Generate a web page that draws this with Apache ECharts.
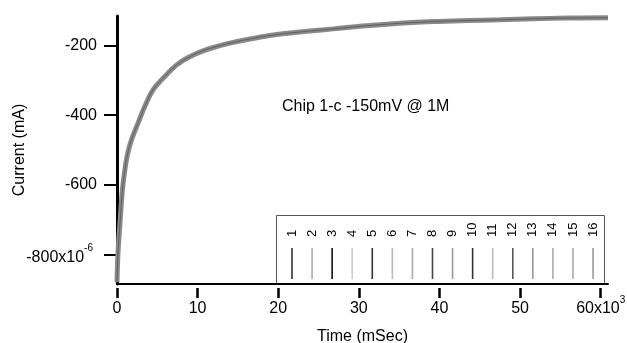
<!DOCTYPE html>
<html>
<head>
<meta charset="utf-8">
<title>Chip 1-c -150mV @ 1M</title>
<script src="https://cdn.jsdelivr.net/npm/echarts@6/dist/echarts.min.js"></script>
<style>
  html, body { margin: 0; padding: 0; background: #fff; }
  #main { width: 627px; height: 343px; }
</style>
</head>
<body>
<div id="main"></div>
<script>
// time (mSec) and current (x10^-6 mA)
var timeVals = [0, 120, 370, 670, 920, 1240, 1790, 2610, 3440, 4470, 5710, 7370, 9020, 10670,
  12340, 13990, 16470, 18950, 21430, 23910, 26810, 30950, 35080, 39180, 43360, 47500, 51600, 55770, 60900];
var currentVals = [-880, -797, -711, -615, -567, -519, -471, -423, -375, -327, -294, -256, -232, -215,
  -203, -193, -181, -171, -164, -158, -152, -143, -136, -131, -128, -126, -123, -121, -120];

var xTicks = [0, 10000, 20000, 30000, 40000, 50000, 60000];
var yTicks = [-800, -600, -400, -200];

var legendNames = ['1', '2', '3', '4', '5', '6', '7', '8', '9', '10', '11', '12', '13', '14', '15', '16'];
var legendColors = ['#333', '#aaa', '#111', '#ccc', '#333', '#bbb', '#aaa', '#444',
  '#999', '#333', '#bbb', '#555', '#999', '#aaa', '#aaa', '#999'];

var font = '"Liberation Sans", Arial, sans-serif';

var traceData = timeVals.map(function (t, i) { return [t, currentVals[i]]; });

// legend box drawn by hand (rotated numbers + short line samples)
var legendItems = [{
  type: 'rect',
  shape: { x: 276.5, y: 215.5, width: 328, height: 69 },
  style: { fill: '#fff', stroke: '#555', lineWidth: 1 }
}];
legendNames.forEach(function (name, i) {
  var x = 292 + i * 20.07;
  legendItems.push({
    type: 'text',
    x: x, y: 237,
    rotation: Math.PI / 2,
    style: { text: name, font: '13px ' + font, fill: '#000', align: 'left', verticalAlign: 'middle' }
  });
  legendItems.push({
    type: 'line',
    shape: { x1: x, y1: 248, x2: x, y2: 279 },
    style: { stroke: legendColors[i], lineWidth: 1.6 }
  });
});

var chart = echarts.init(document.getElementById('main'));
chart.setOption({
  animation: false,
  backgroundColor: '#fff',
  grid: { left: 117, right: 19, top: 16, bottom: 59, outerBoundsMode: 'none', containLabel: false },
  xAxis: [{
    type: 'value',
    min: 0,
    max: 60900,
    position: 'bottom',
    name: 'Time (mSec)',
    nameLocation: 'middle',
    nameGap: 45,
    nameMoveOverlap: false,
    nameTextStyle: { color: '#000', fontSize: 16, fontFamily: font },
    axisLine: { show: true, lineStyle: { color: '#000', width: 2 } },
    axisTick: { show: false },
    axisLabel: { show: false },
    splitLine: { show: false }
  }, {
    type: 'value',
    min: 0,
    max: 60900,
    position: 'bottom',
    offset: 4,
    axisLine: { show: false },
    axisTick: { show: true, length: 10, lineStyle: { color: '#000', width: 2.5 }, customValues: xTicks },
    axisLabel: {
      color: '#000',
      fontSize: 16,
      fontFamily: font,
      margin: 4,
      customValues: xTicks,
      formatter: function (v) {
        if (v === 60000) return '{a|60x10}{s|3}';
        return '{a|' + (v / 1000) + '}';
      },
      rich: {
        a: { fontSize: 16, fontFamily: font, color: '#000', padding: [9, 0, 0, 0], verticalAlign: 'bottom' },
        s: { fontSize: 10, fontFamily: font, color: '#000', padding: [0, 0, 12, 0], verticalAlign: 'bottom' }
      }
    },
    splitLine: { show: false }
  }],
  yAxis: {
    type: 'value',
    min: -885,
    max: -115,
    offset: 2,
    name: 'Current (mA)',
    nameLocation: 'middle',
    nameGap: 87,
    nameMoveOverlap: false,
    nameTextStyle: { color: '#000', fontSize: 16, fontFamily: font },
    axisLine: { show: true, lineStyle: { color: '#000', width: 3 } },
    axisTick: { show: true, length: 13, lineStyle: { color: '#000', width: 2 }, customValues: yTicks },
    axisLabel: {
      color: '#000',
      fontSize: 16,
      fontFamily: font,
      margin: 18,
      customValues: yTicks,
      formatter: function (v) {
        if (v === -800) return '{a|-800x10}{s|-6}';
        return '{a|' + v + '}';
      },
      rich: {
        a: { fontSize: 16, fontFamily: font, color: '#000', verticalAlign: 'bottom' },
        s: { fontSize: 10, fontFamily: font, color: '#000', padding: [0, 4, 12, 0], verticalAlign: 'bottom' }
      }
    },
    splitLine: { show: false }
  },
  graphic: [{
    type: 'text',
    left: 282,
    top: 99,
    style: { text: 'Chip 1-c -150mV @ 1M', font: '16px ' + font, fill: '#000' }
  }, {
    type: 'group',
    z: 100,
    children: legendItems
  }],
  series: [{
    type: 'line',
    data: traceData,
    showSymbol: false,
    smooth: 0.4,
    lineStyle: { color: '#8a8a8a', width: 5 }
  }, {
    type: 'line',
    data: traceData,
    showSymbol: false,
    smooth: 0.4,
    lineStyle: { color: '#444', width: 1, opacity: 0.6 }
  }]
});
</script>
</body>
</html>
